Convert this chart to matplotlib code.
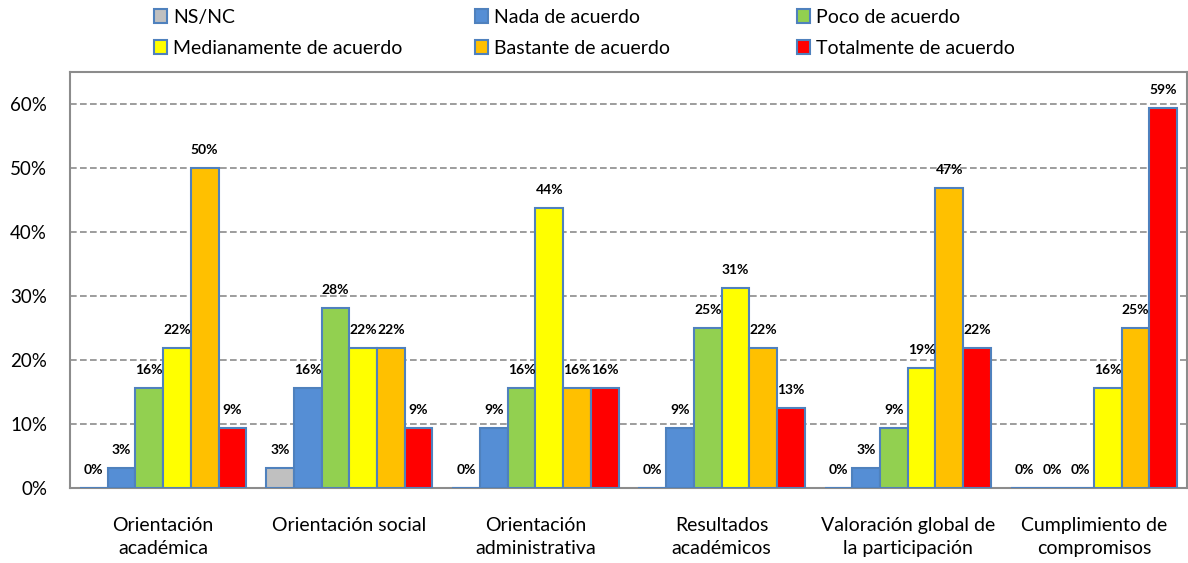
import numpy as np
import matplotlib.pyplot as plt
from matplotlib.patches import Patch

plt.rcParams['font.family'] = ['Lato', 'DejaVu Sans']

categorias = ['Orientación\nacadémica', 'Orientación social', 'Orientación\nadministrativa',
              'Resultados\nacadémicos', 'Valoración global de\nla participación', 'Cumplimiento de\ncompromisos']
series = ['NS/NC', 'Nada de acuerdo', 'Poco de acuerdo',
          'Medianamente de acuerdo', 'Bastante de acuerdo', 'Totalmente de acuerdo']
colores = ['#C0C0C0', '#558ED5', '#92D050', '#FFFF00', '#FFC000', '#FF0000']

# porcentajes (32 respuestas)
ns_nc = [0.0, 3.125, 0.0, 0.0, 0.0, 0.0]
nada = [3.125, 15.625, 9.375, 9.375, 3.125, 0.0]
poco = [15.625, 28.125, 15.625, 25.0, 9.375, 0.0]
medianamente = [21.875, 21.875, 43.75, 31.25, 18.75, 15.625]
bastante = [50.0, 21.875, 15.625, 21.875, 46.875, 25.0]
totalmente = [9.375, 9.375, 15.625, 12.5, 21.875, 59.375]
valores = [ns_nc, nada, poco, medianamente, bastante, totalmente]

fig = plt.figure(figsize=(11.88, 5.63), dpi=100)
ax = fig.add_axes([70/1188, 1 - 488/563, 1117/1188, 416/563])

x = np.arange(len(categorias))
ancho = 0.149
for i, (serie, vals, col) in enumerate(zip(series, valores, colores)):
    pos = x + (i - 2.5) * ancho
    ax.bar(pos, vals, ancho, color=col, edgecolor='#4F81BD', linewidth=1.5, zorder=3)
    for px, v in zip(pos, vals):
        ax.annotate('%d%%' % int(v + 0.5), (px, v), xytext=(0, 9), textcoords='offset points',
                    ha='center', va='bottom', fontsize=10, fontweight='bold', zorder=4)

ax.set_xlim(-0.5, len(categorias) - 0.5)
ax.set_ylim(0, 65)
ax.set_yticks(np.arange(0, 61, 10))
ax.set_yticklabels(['%d%%' % t for t in range(0, 61, 10)], fontsize=13.5)
ax.set_xticks(x)
ax.set_xticklabels(categorias, fontsize=14, linespacing=1.45)
ax.tick_params(axis='x', length=0, pad=21)
ax.tick_params(axis='y', length=0, pad=16.5)
ax.yaxis.grid(True, linestyle=(0, (4, 2)), color='#8C8C8C', linewidth=1.2, zorder=0)
for s in ax.spines.values():
    s.set_color('#8C8C8C')
    s.set_linewidth(1.5)

# leyenda en tres columnas, orden por filas
columnas = [(0, 3), (1, 4), (2, 5)]
x_col = [154, 475, 797]
for (a, b), xc in zip(columnas, x_col):
    handles = [Patch(facecolor=colores[k], edgecolor='#4F81BD', linewidth=1.5) for k in (a, b)]
    leg = fig.legend(handles, [series[a], series[b]], loc='upper left',
                     bbox_to_anchor=(xc/1188, 1 - 9/563), frameon=False, fontsize=14,
                     handlelength=0.65, handleheight=0.7, handletextpad=0.35,
                     labelspacing=0.72, borderpad=0, borderaxespad=0)

fig.savefig('out.png', dpi=100)
